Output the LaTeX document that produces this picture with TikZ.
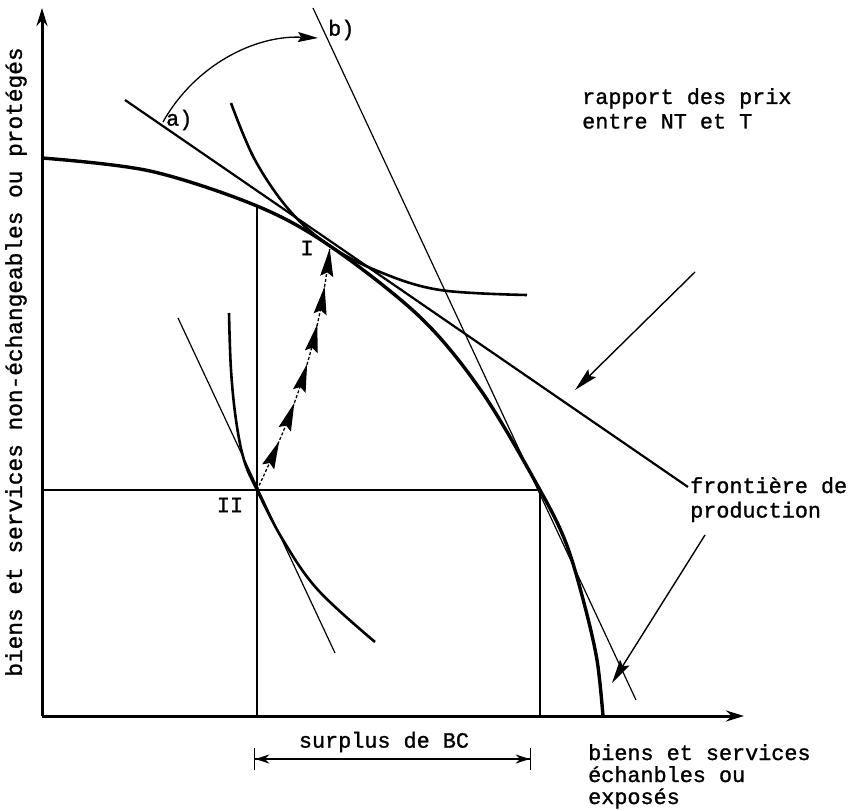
\documentclass[tikz,border=0pt]{standalone}
\usepackage{fontspec}
\setmainfont{Liberation Mono}[FakeBold=1.2]
\usetikzlibrary{arrows.meta,decorations.markings}
\begin{document}
\begin{tikzpicture}[x=1pt,y=-1pt,
  axis/.style={line width=3pt,-{Stealth[length=18pt,width=11pt]}},
  guide/.style={line width=1.3pt},
  thinline/.style={line width=1.2pt},
  tangent/.style={line width=2.2pt},
  frontier/.style={line width=3.4pt},
  indiff/.style={line width=2.6pt},
  lbl/.style={font=\fontsize{21.8}{24.5}\selectfont, inner sep=0pt, align=left},
  pointer/.style={line width=1.4pt,-{Stealth[length=24pt,width=11pt,inset=4pt]}},
  ]
\useasboundingbox (0,0) rectangle (862,811);
% key points
\coordinate (O) at (42,716);
\coordinate (ytip) at (42,8);
\coordinate (xtip) at (744,716);
\coordinate (I) at (330,246);
\coordinate (II) at (257,490);
\coordinate (Q) at (540,490);
\coordinate (F0) at (257,206);
\coordinate (Fx) at (257,716);
\coordinate (Qx) at (540,716);
\coordinate (Hy) at (42,490);
% axes
\draw[axis] (O) -- (ytip);
\draw[axis] (O) -- (xtip);
% guides
\draw[guide] (F0) -- (Fx);
\draw[guide] (Hy) -- (Q);
\draw[guide] (Q) -- (Qx);
% production frontier
\draw[frontier] plot[smooth,tension=0.55] coordinates {(42,158) (150,171) (257,206) (330,246) (420,317) (482,392) (540,490) (566,543) (584,603) (597,660) (603,716)};
% tangent a)
\coordinate (a1) at (125,100);
\coordinate (a2) at (688,487);
\draw[tangent] (a1) -- (a2);
% line b)
\coordinate (b1) at (313,8);
\coordinate (b2) at (636,700);
\draw[thinline] (b1) -- (b2);
% indifference curve at I
\draw[indiff] plot[smooth,tension=0.6] coordinates {(231,103) (255,160) (290,211) (330,246) (380,272) (440,290) (527,295)};
% price line at II
\coordinate (c1) at (178,318);
\coordinate (c2) at (335,653);
\draw[thinline] (c1) -- (c2);
% indifference curve at II
\draw[indiff] plot[smooth,tension=0.6] coordinates {(229,313) (231,370) (236,420) (244,460) (257,490) (283,540) (318,590) (375,642)};
% path II -> I with arrowheads
\draw[line width=1.3pt, dash pattern=on 3pt off 2pt,
  decoration={markings,
    mark=at position 0.21 with {\arrow{Stealth[length=28pt,width=13pt,inset=4pt]}},
    mark=at position 0.37 with {\arrow{Stealth[length=28pt,width=13pt,inset=4pt]}},
    mark=at position 0.53 with {\arrow{Stealth[length=28pt,width=13pt,inset=4pt]}},
    mark=at position 0.69 with {\arrow{Stealth[length=28pt,width=13pt,inset=4pt]}},
    mark=at position 0.84 with {\arrow{Stealth[length=28pt,width=13pt,inset=4pt]}},
    mark=at position 0.99 with {\arrow{Stealth[length=28pt,width=13pt,inset=4pt]}}},
  postaction={decorate}]
  (II) .. controls (285,430) and (318,360) .. (I);
% rotation arrow a) -> b)
\coordinate (r1) at (163,122);
\coordinate (r2) at (318,38);
\draw[line width=1.3pt,-{Stealth[length=20pt,width=10pt,inset=3pt]}] (r1) .. controls (195,65) and (255,35) .. (r2);
% labels
\node[lbl,anchor=west] (la) at (166,120) {a)};
\node[lbl,anchor=west] (lb) at (328,30) {b)};
\node[lbl] (lI) at (307,248) {I};
\node[lbl] (lII) at (230,505) {II};
\node[lbl,anchor=north west] (rap) at (582,88) {rapport des prix\\entre NT et T};
\coordinate (rp1) at (695,272);
\coordinate (rp2) at (575,390);
\draw[pointer] (rp1) -- (rp2);
\node[lbl,anchor=north west] (fro) at (690,477) {frontière de\\production};
\coordinate (fp1) at (705,535);
\coordinate (fp2) at (612,683);
\draw[pointer] (fp1) -- (fp2);
\node[lbl] (sur) at (384,742) {surplus de BC};
\coordinate (s1) at (254,759);
\coordinate (s2) at (531,759);
\draw[line width=1.3pt,{Bar[width=22pt]Stealth[length=14pt,width=9pt]}-{Stealth[length=14pt,width=9pt]Bar[width=22pt]}] (s1) -- (s2);
\node[lbl,font=\fontsize{21.8}{22}\selectfont,anchor=north west] (xl) at (588,744) {biens et services\\échanbles ou\\exposés};
\node[lbl,font=\fontsize{22.8}{24}\selectfont,rotate=90,anchor=center] (yl) at (16,362) {biens et services non-échangeables ou protégés};
\end{tikzpicture}
\end{document}
